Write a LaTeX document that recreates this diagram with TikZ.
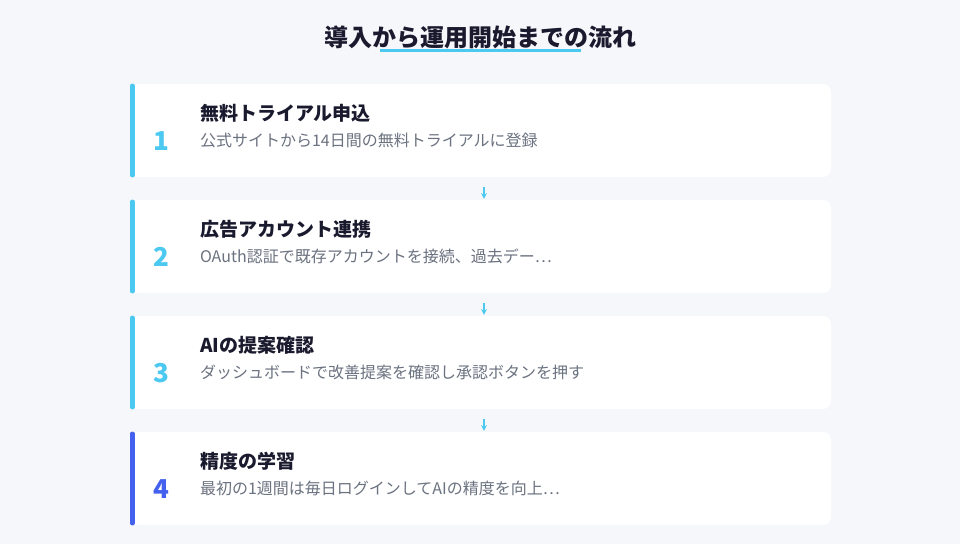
\documentclass[tikz,border=0pt]{standalone}
\usepackage{fontspec}
\setmainfont{Noto Sans CJK JP}
\usepackage{tikz}
\usetikzlibrary{arrows,shapes,positioning}
\usepackage{xcolor}
\definecolor{flowbg}{RGB}{245,247,251}
\definecolor{flowcyan}{RGB}{76,201,240}
\definecolor{flowblue}{RGB}{67,97,238}
\definecolor{flowdark}{RGB}{26,26,46}
\definecolor{flowgray}{RGB}{107,114,128}
\tikzstyle{arrow} = [line width=1.5pt,->,>=stealth,color=flowcyan]
\tikzstyle{stepcard} = [rectangle, rounded corners=8pt, minimum width=701pt, minimum height=93pt, fill=white, inner sep=0pt]
\tikzstyle{stepnum} = [font=\fontsize{26}{30}\selectfont\bfseries, text=flowcyan, inner sep=0pt]
\tikzstyle{steptitle} = [anchor=west, font=\fontsize{19}{23}\selectfont\bfseries, text=flowdark, inner sep=0pt]
\tikzstyle{stepdesc} = [anchor=west, font=\fontsize{16}{20}\selectfont, text=flowgray, inner sep=0pt]

\begin{document}
\begin{tikzpicture}[x=1pt, y=1pt, node distance=116pt]
\fill[flowbg] (0,0) rectangle (960,-544);
\useasboundingbox (0,0) rectangle (960,-544);
% Title
\node (heading) [font=\fontsize{24}{28}\selectfont\bfseries, text=flowdark, inner sep=0pt] at (480,-37) {導入から運用開始までの流れ};
\draw[flowcyan, line width=3pt] (380,-50.5) -- (581,-50.5);

% Steps
\node (card1) [stepcard] at (480.5,-130.5) {};
\node (card2) [stepcard, below of=card1] {};
\node (card3) [stepcard, below of=card2] {};
\node (card4) [stepcard, below of=card3] {};

\foreach \c/\col in {card1/flowcyan, card2/flowcyan, card3/flowcyan, card4/flowblue}
  \draw[\col, line width=4.5pt, line cap=round] ([xshift=2.5pt, yshift=-2pt]\c.north west) -- ([xshift=2.5pt, yshift=2pt]\c.south west);

\node (num1) [stepnum] at ([xshift=32pt, yshift=-10.5pt]card1.west) {1};
\node (num2) [stepnum] at ([xshift=32pt, yshift=-10.5pt]card2.west) {2};
\node (num3) [stepnum] at ([xshift=32pt, yshift=-10.5pt]card3.west) {3};
\node (num4) [stepnum, text=flowblue] at ([xshift=32pt, yshift=-10.5pt]card4.west) {4};

\node (title1) [steptitle] at ([xshift=70pt, yshift=17.5pt]card1.west) {無料トライアル申込};
\node (desc1) [stepdesc] at ([xshift=70pt, yshift=-9.5pt]card1.west) {公式サイトから14日間の無料トライアルに登録};
\node (title2) [steptitle] at ([xshift=70pt, yshift=17.5pt]card2.west) {広告アカウント連携};
\node (desc2) [stepdesc] at ([xshift=70pt, yshift=-9.5pt]card2.west) {OAuth認証で既存アカウントを接続、過去デー⋯};
\node (title3) [steptitle] at ([xshift=70pt, yshift=17.5pt]card3.west) {AIの提案確認};
\node (desc3) [stepdesc] at ([xshift=70pt, yshift=-9.5pt]card3.west) {ダッシュボードで改善提案を確認し承認ボタンを押す};
\node (title4) [steptitle] at ([xshift=70pt, yshift=17.5pt]card4.west) {精度の学習};
\node (desc4) [stepdesc] at ([xshift=70pt, yshift=-9.5pt]card4.west) {最初の1週間は毎日ログインしてAIの精度を向上⋯};

% Connectors
\draw[arrow] ([xshift=3.5pt, yshift=-10pt]card1.south) -- ([xshift=3.5pt, yshift=1pt]card2.north);
\draw[arrow] ([xshift=3.5pt, yshift=-10pt]card2.south) -- ([xshift=3.5pt, yshift=1pt]card3.north);
\draw[arrow] ([xshift=3.5pt, yshift=-10pt]card3.south) -- ([xshift=3.5pt, yshift=1pt]card4.north);
\end{tikzpicture}
\end{document}
